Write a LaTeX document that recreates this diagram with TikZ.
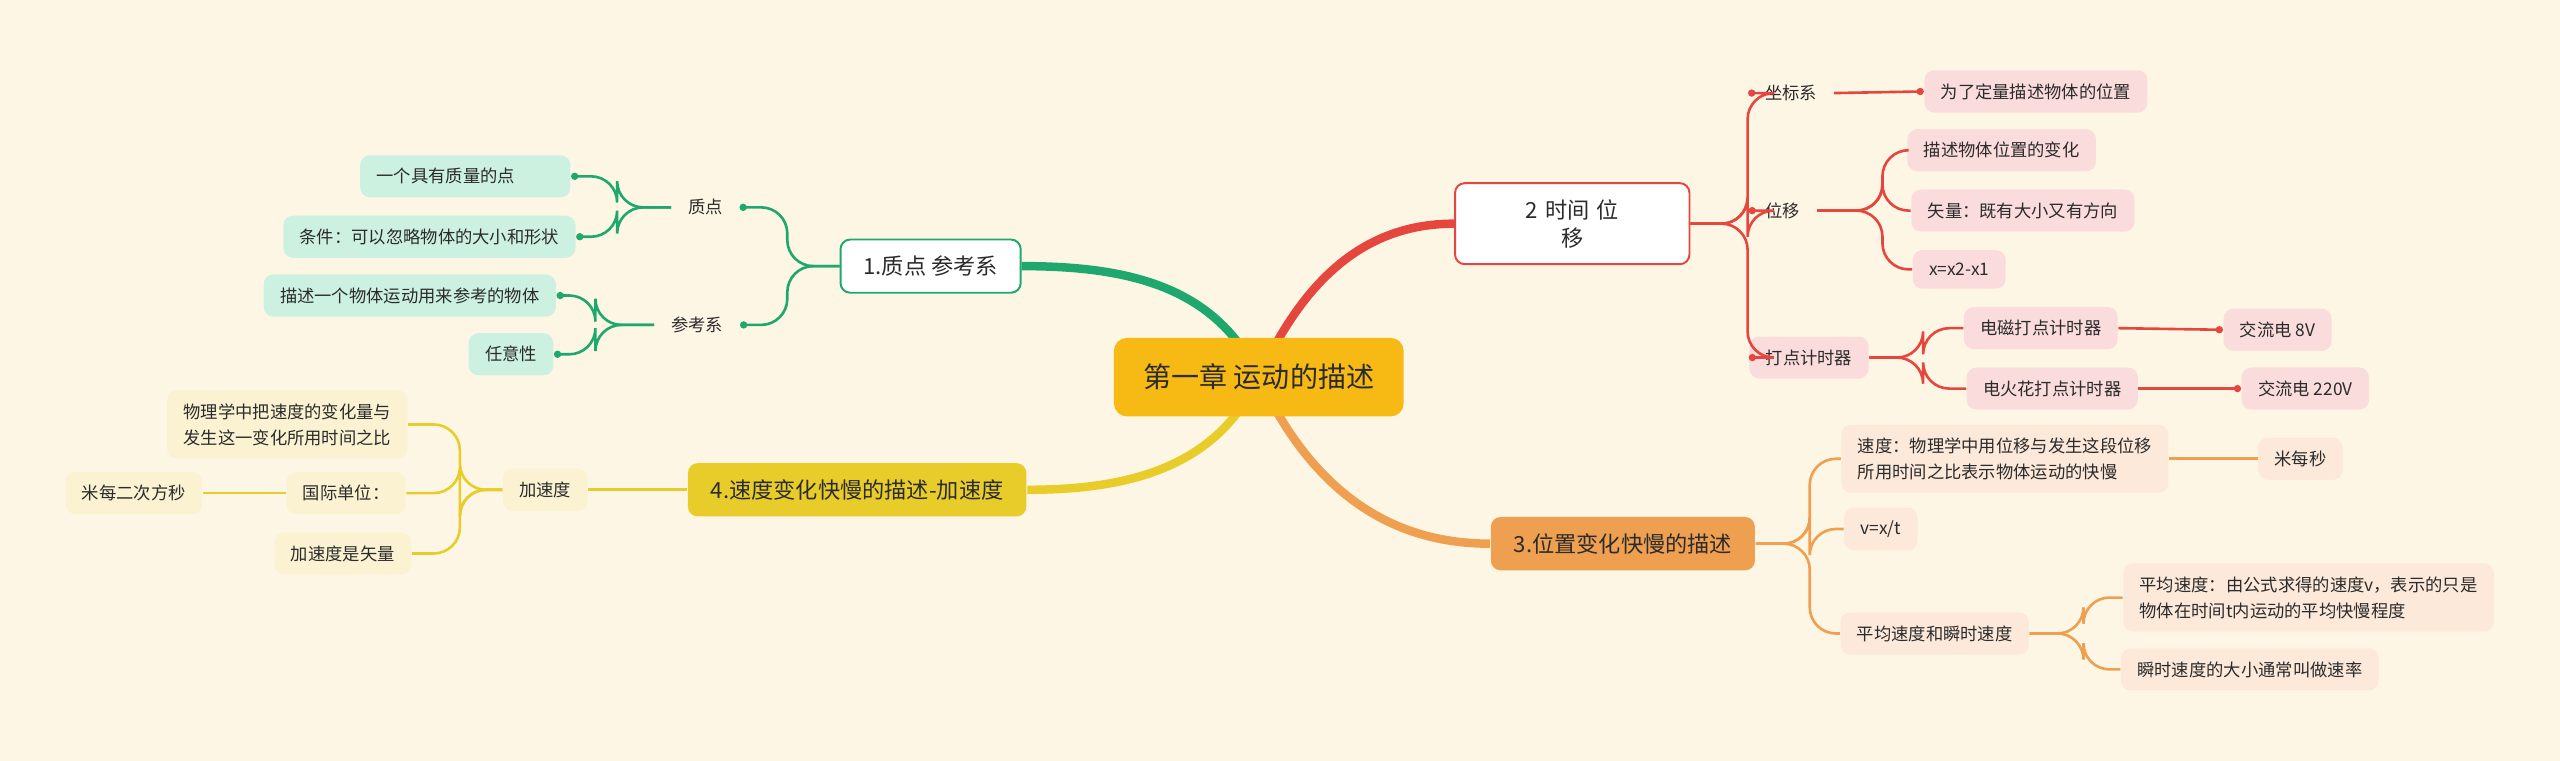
\documentclass[tikz,border=0pt]{standalone}
\usepackage{fontspec}
\setmainfont{Noto Sans CJK SC}
\usetikzlibrary{arrows.meta}
\definecolor{bg}{HTML}{FEF6E4}
\definecolor{gr}{HTML}{1EA86E}
\definecolor{grf}{HTML}{CDF1E0}
\definecolor{rd}{HTML}{E5473F}
\definecolor{rdf}{HTML}{FADCDC}
\definecolor{or}{HTML}{EE9F50}
\definecolor{orf}{HTML}{FCE9DA}
\definecolor{ye}{HTML}{E8CD2A}
\definecolor{yef}{HTML}{FBF2D2}
\definecolor{ce}{HTML}{F7BA14}
\definecolor{tx}{HTML}{2B2B2B}
\tikzset{
 leaf/.style={rounded corners=3pt,inner xsep=5pt,inner ysep=4pt,font=\fontsize{5.3}{8}\selectfont,text=tx,align=left},
 plain/.style={leaf},
 br/.style={rounded corners=3pt,inner xsep=7pt,inner ysep=5pt,font=\fontsize{6.8}{8.5}\selectfont,text=tx,align=center,line width=0.6pt},
 gl/.style={draw=gr,line width=0.8pt,rounded corners=8pt},
 rl/.style={draw=rd,line width=0.8pt,rounded corners=8pt},
 ol/.style={draw=or,line width=0.8pt,rounded corners=8pt},
 yl/.style={draw=ye,line width=0.8pt,rounded corners=8pt},
 dot/.style={-{Circle[length=2.2pt]}},
 main/.style={line width=2.6pt},
}
\begin{document}
\begin{tikzpicture}[x=0.5pt,y=-0.5pt]
\fill[bg] (0,0) rectangle (1568,466);
\useasboundingbox (0,0) rectangle (1568,466);
% main branches
\coordinate (c0) at (771,231);
\node[br,draw=gr,fill=white] (b1) at (570,163) {1.质点 参考系};
\node[br,draw=rd,fill=white,text width=68pt/2*1.7] (b2) at (963,137) {2 时间 位\\移};
\node[br,fill=or] (b3) at (994,333) {3.位置变化快慢的描述};
\node[br,fill=ye] (b4) at (525,300) {4.速度变化快慢的描述-加速度};
\draw[main,gr] (c0) to[out=115,in=0] (b1.east);
\draw[main,rd] (c0) to[out=65,in=180] (b2.west);
\draw[main,or] (c0) to[out=-65,in=180] (b3.west);
\draw[main,ye] (c0) to[out=-115,in=0] (b4.east);
\node[rounded corners=4pt,fill=ce,inner xsep=9pt,inner ysep=8pt,font=\fontsize{8.6}{10}\selectfont,text=tx] (c) at (771,231) {第一章\ 运动的描述};
% green
\node[plain] (g1) at (432,127) {质点};
\node[plain] (g2) at (427,199) {参考系};
\node[leaf,fill=grf] (g11) at (285,108) {一个具有质量的点\hspace{12pt}};
\node[leaf,fill=grf] (g12) at (263,145) {条件：可以忽略物体的大小和形状};
\node[leaf,fill=grf] (g21) at (251,181) {描述一个物体运动用来参考的物体};
\node[leaf,fill=grf] (g22) at (313,217) {任意性};
\foreach \c in {g1,g2} \draw[gl,dot] (b1.west) -- ++(-32,0) |- (\c.east);
\foreach \c in {g11,g12} \draw[gl,dot] (g1.west) -- ++(-33,0) |- (\c.east);
\foreach \c in {g21,g22} \draw[gl,dot] (g2.west) -- ++(-36,0) |- (\c.east);
% red
\node[plain] (r1) at (1097,57) {坐标系};
\node[plain] (r2) at (1092,129) {位移};
\node[leaf,fill=rdf] (r3) at (1108,219) {打点计时器};
\node[leaf,fill=rdf] (r11) at (1247,56) {为了定量描述物体的位置};
\node[leaf,fill=rdf] (r21) at (1226,92) {描述物体位置的变化};
\node[leaf,fill=rdf] (r22) at (1239,129) {矢量：既有大小又有方向};
\node[leaf,fill=rdf] (r23) at (1200,165) {x=x2-x1};
\node[leaf,fill=rdf] (r31) at (1250,201) {电磁打点计时器};
\node[leaf,fill=rdf] (r32) at (1257,238) {电火花打点计时器};
\node[leaf,fill=rdf] (r311) at (1395,202) {交流电 8V};
\node[leaf,fill=rdf] (r321) at (1412,238) {交流电 220V};
\foreach \c in {r1,r2,r3} \draw[rl,dot] (b2.east) -- ++(35,0) |- (\c.west);
\draw[rl,dot] (r1.east) -- (r11.west);
\foreach \c in {r21,r22,r23} \draw[rl] (r2.east) -- ++(40,0) |- (\c.west);
\foreach \c in {r31,r32} \draw[rl] (r3.east) -- ++(33,0) |- (\c.west);
\draw[rl,dot] (r31.east) -- (r311.west);
\draw[rl,dot] (r32.east) -- (r321.west);
% orange
\node[leaf,fill=orf] (o1) at (1228,281) {速度：物理学中用位移与发生这段位移\\所用时间之比表示物体运动的快慢};
\node[leaf,fill=orf] (o11) at (1409,281) {米每秒};
\node[leaf,fill=orf] (o2) at (1152,324) {v=x/t};
\node[leaf,fill=orf] (o3) at (1185,388) {平均速度和瞬时速度};
\node[leaf,fill=orf] (o31) at (1414,366) {平均速度：由公式求得的速度v，表示的只是\\物体在时间t内运动的平均快慢程度};
\node[leaf,fill=orf] (o32) at (1378,410) {瞬时速度的大小通常叫做速率};
\foreach \c in {o1,o2,o3} \draw[ol] (b3.east) -- ++(33,0) |- (\c.west);
\draw[ol] (o1.east) -- (o11.west);
\foreach \c in {o31,o32} \draw[ol] (o3.east) -- ++(33,0) |- (\c.west);
% yellow
\node[leaf,fill=yef] (y1) at (334,300) {加速度};
\node[leaf,fill=yef] (y11) at (176,260) {物理学中把速度的变化量与\\发生这一变化所用时间之比};
\node[leaf,fill=yef] (y12) at (212,302) {国际单位：};
\node[leaf,fill=yef] (y13) at (210,339) {加速度是矢量};
\node[leaf,fill=yef] (y121) at (82,302) {米每二次方秒};
\draw[yl] (b4.west) -- (y1.east);
\foreach \c in {y11,y12,y13} \draw[yl] (y1.west) -- ++(-26,0) |- (\c.east);
\draw[yl] (y12.west) -- (y121.east);
\end{tikzpicture}
\end{document}
